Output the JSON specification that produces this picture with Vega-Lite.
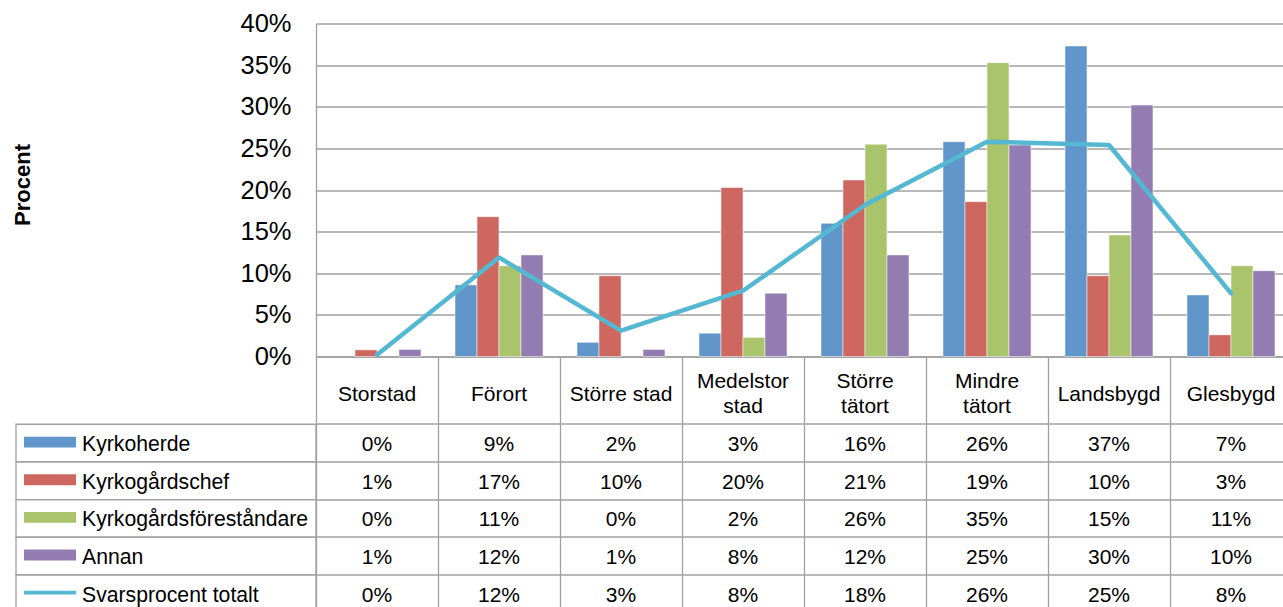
{
  "$schema": "https://vega.github.io/schema/vega-lite/v6.json",
  "background": "white",
  "padding": {"left": 11, "top": 11.5, "right": 0, "bottom": 0},
  "config": {
    "view": {"stroke": null},
    "font": "Liberation Sans",
    "axis": {"labelFont": "Liberation Sans", "titleFont": "Liberation Sans"}
  },
  "datasets": {
    "andelar": [
      {"omrade": "Storstad", "grupp": "Kyrkoherde", "andel": 0},
      {"omrade": "Förort", "grupp": "Kyrkoherde", "andel": 0.086},
      {"omrade": "Större stad", "grupp": "Kyrkoherde", "andel": 0.017},
      {"omrade": "Medelstor stad", "grupp": "Kyrkoherde", "andel": 0.028},
      {"omrade": "Större tätort", "grupp": "Kyrkoherde", "andel": 0.16},
      {"omrade": "Mindre tätort", "grupp": "Kyrkoherde", "andel": 0.258},
      {"omrade": "Landsbygd", "grupp": "Kyrkoherde", "andel": 0.373},
      {"omrade": "Glesbygd", "grupp": "Kyrkoherde", "andel": 0.074},
      {"omrade": "Storstad", "grupp": "Kyrkogårdschef", "andel": 0.008},
      {"omrade": "Förort", "grupp": "Kyrkogårdschef", "andel": 0.168},
      {"omrade": "Större stad", "grupp": "Kyrkogårdschef", "andel": 0.097},
      {"omrade": "Medelstor stad", "grupp": "Kyrkogårdschef", "andel": 0.203},
      {"omrade": "Större tätort", "grupp": "Kyrkogårdschef", "andel": 0.212},
      {"omrade": "Mindre tätort", "grupp": "Kyrkogårdschef", "andel": 0.186},
      {"omrade": "Landsbygd", "grupp": "Kyrkogårdschef", "andel": 0.097},
      {"omrade": "Glesbygd", "grupp": "Kyrkogårdschef", "andel": 0.026},
      {"omrade": "Storstad", "grupp": "Kyrkogårdsföreståndare", "andel": 0},
      {"omrade": "Förort", "grupp": "Kyrkogårdsföreståndare", "andel": 0.109},
      {"omrade": "Större stad", "grupp": "Kyrkogårdsföreståndare", "andel": 0},
      {"omrade": "Medelstor stad", "grupp": "Kyrkogårdsföreståndare", "andel": 0.023},
      {"omrade": "Större tätort", "grupp": "Kyrkogårdsföreståndare", "andel": 0.255},
      {"omrade": "Mindre tätort", "grupp": "Kyrkogårdsföreståndare", "andel": 0.353},
      {"omrade": "Landsbygd", "grupp": "Kyrkogårdsföreståndare", "andel": 0.146},
      {"omrade": "Glesbygd", "grupp": "Kyrkogårdsföreståndare", "andel": 0.109},
      {"omrade": "Storstad", "grupp": "Annan", "andel": 0.0085},
      {"omrade": "Förort", "grupp": "Annan", "andel": 0.122},
      {"omrade": "Större stad", "grupp": "Annan", "andel": 0.0085},
      {"omrade": "Medelstor stad", "grupp": "Annan", "andel": 0.076},
      {"omrade": "Större tätort", "grupp": "Annan", "andel": 0.122},
      {"omrade": "Mindre tätort", "grupp": "Annan", "andel": 0.254},
      {"omrade": "Landsbygd", "grupp": "Annan", "andel": 0.302},
      {"omrade": "Glesbygd", "grupp": "Annan", "andel": 0.103},
      {"omrade": "Storstad", "grupp": "Svarsprocent totalt", "andel": 0.002},
      {"omrade": "Förort", "grupp": "Svarsprocent totalt", "andel": 0.119},
      {"omrade": "Större stad", "grupp": "Svarsprocent totalt", "andel": 0.031},
      {"omrade": "Medelstor stad", "grupp": "Svarsprocent totalt", "andel": 0.079},
      {"omrade": "Större tätort", "grupp": "Svarsprocent totalt", "andel": 0.182},
      {"omrade": "Mindre tätort", "grupp": "Svarsprocent totalt", "andel": 0.258},
      {"omrade": "Landsbygd", "grupp": "Svarsprocent totalt", "andel": 0.254},
      {"omrade": "Glesbygd", "grupp": "Svarsprocent totalt", "andel": 0.076}
    ]
  },
  "columns": 2,
  "spacing": 0,
  "bounds": "flush",
  "resolve": {
    "scale": {"x": "independent", "y": "independent", "color": "independent", "shape": "independent"},
    "axis": {"x": "independent", "y": "independent"}
  },
  "concat": [
    {
      "width": 300,
      "height": 333,
      "data": {"values": [{}]},
      "mark": {"type": "text", "text": ""}
    },
    {
      "width": 976,
      "height": 333,
      "data": {"name": "andelar"},
      "encoding": {
        "x": {
          "field": "omrade",
          "type": "nominal",
          "scale": {
            "type": "band",
            "domain": ["Storstad", "Förort", "Större stad", "Medelstor stad", "Större tätort", "Mindre tätort", "Landsbygd", "Glesbygd"],
            "paddingInner": 0,
            "paddingOuter": 0
          },
          "axis": {
            "title": null,
            "orient": "bottom",
            "domain": true,
            "domainColor": "#A0A0A0",
            "domainWidth": 1.3,
            "ticks": false,
            "grid": false,
            "labelAngle": 0,
            "labelFontSize": 21,
            "labelColor": "#000000",
            "labelBaseline": "middle",
            "labelPadding": {
              "condition": {"test": "indexof(['Medelstor stad', 'Större tätort', 'Mindre tätort'], datum.value) >= 0", "value": 25},
              "value": 37.5
            },
            "labelLineHeight": 25,
            "labelOverlap": false,
            "labelExpr": "indexof(['Medelstor stad', 'Större tätort', 'Mindre tätort'], datum.value) >= 0 ? split(datum.value, ' ') : datum.value"
          }
        }
      },
      "layer": [
        {
          "transform": [{"filter": "datum.grupp != 'Svarsprocent totalt' && datum.andel > 0"}],
          "mark": {"type": "bar", "stroke": "#ffffff", "strokeOpacity": 0.5, "strokeWidth": 1},
          "encoding": {
            "xOffset": {
              "field": "grupp",
              "scale": {
                "domain": ["Kyrkoherde", "Kyrkogårdschef", "Kyrkogårdsföreståndare", "Annan"],
                "paddingOuter": 0.773,
                "paddingInner": 0
              }
            },
            "y": {
              "field": "andel",
              "type": "quantitative",
              "scale": {"domain": [0, 0.4], "nice": false},
              "axis": {
                "values": [0, 0.05, 0.1, 0.15, 0.2, 0.25, 0.3, 0.35, 0.4],
                "format": ".0%",
                "grid": true,
                "gridColor": "#A0A0A0",
                "gridWidth": 1.3,
                "domain": true,
                "domainColor": "#A0A0A0",
                "domainWidth": 1.3,
                "ticks": false,
                "labelFontSize": 25.5,
                "labelColor": "#000000",
                "labelPadding": 25,
                "title": "Procent",
                "titleFontSize": 22,
                "titleFontWeight": "bold",
                "titleColor": "#000000",
                "titleAngle": -90,
                "titleBaseline": "middle",
                "titleAlign": "center",
                "titleX": -293.5,
                "titleY": 161
              }
            },
            "color": {
              "field": "grupp",
              "scale": {
                "domain": ["Kyrkoherde", "Kyrkogårdschef", "Kyrkogårdsföreståndare", "Annan", "Svarsprocent totalt"],
                "range": ["#6096CA", "#CD6760", "#AAC46C", "#937CB2", "#54B8D2"]
              },
              "legend": null
            }
          }
        },
        {
          "transform": [{"filter": "datum.grupp == 'Svarsprocent totalt'"}],
          "mark": {"type": "line", "color": "#54B8D2", "strokeWidth": 4.5, "strokeCap": "round", "strokeJoin": "round"},
          "encoding": {
            "y": {"field": "andel", "type": "quantitative"}
          }
        }
      ]
    },
    {
      "width": 300,
      "height": 256,
      "data": {"name": "andelar"},
      "transform": [{"filter": "datum.omrade == 'Storstad'"}],
      "encoding": {
        "y": {
          "field": "grupp",
          "type": "nominal",
          "scale": {
            "type": "band",
            "domain": ["Kyrkoherde", "Kyrkogårdschef", "Kyrkogårdsföreståndare", "Annan", "Svarsprocent totalt"],
            "paddingInner": 0,
            "paddingOuter": 0.9,
            "align": 1
          },
          "axis": null
        }
      },
      "layer": [
        {
          "mark": {"type": "rect", "filled": false, "stroke": "#A0A0A0", "strokeWidth": 1.3}
        },
        {
          "mark": {"type": "point", "filled": true, "opacity": 1, "size": 2704, "xOffset": -116, "yOffset": -1},
          "encoding": {
            "shape": {
              "field": "grupp",
              "scale": {
                "domain": ["Kyrkoherde", "Kyrkogårdschef", "Kyrkogårdsföreståndare", "Annan", "Svarsprocent totalt"],
                "range": ["M-1,-0.21H1V0.21H-1Z", "M-1,-0.21H1V0.21H-1Z", "M-1,-0.21H1V0.21H-1Z", "M-1,-0.21H1V0.21H-1Z", "M-1,-0.07H1V0.07H-1Z"]
              },
              "legend": null
            },
            "color": {
              "field": "grupp",
              "scale": {
                "domain": ["Kyrkoherde", "Kyrkogårdschef", "Kyrkogårdsföreståndare", "Annan", "Svarsprocent totalt"],
                "range": ["#6096CA", "#CD6760", "#AAC46C", "#937CB2", "#54B8D2"]
              },
              "legend": null
            }
          }
        },
        {
          "mark": {"type": "text", "align": "left", "dx": -84, "dy": 2, "fontSize": 21.2, "color": "#000000"},
          "encoding": {"text": {"field": "grupp"}}
        }
      ]
    },
    {
      "width": 976,
      "height": 256,
      "data": {"name": "andelar"},
      "mark": {"type": "text", "fontSize": 21, "dy": 2, "color": "#000000"},
      "encoding": {
        "x": {
          "field": "omrade",
          "type": "nominal",
          "scale": {
            "type": "band",
            "domain": ["Storstad", "Förort", "Större stad", "Medelstor stad", "Större tätort", "Mindre tätort", "Landsbygd", "Glesbygd"],
            "paddingInner": 0,
            "paddingOuter": 0
          },
          "axis": {
            "orient": "top",
            "title": null,
            "labels": false,
            "ticks": false,
            "domain": false,
            "grid": true,
            "bandPosition": 0,
            "gridColor": "#A0A0A0",
            "gridWidth": 1.3
          }
        },
        "y": {
          "field": "grupp",
          "type": "nominal",
          "scale": {
            "type": "band",
            "domain": ["Kyrkoherde", "Kyrkogårdschef", "Kyrkogårdsföreståndare", "Annan", "Svarsprocent totalt"],
            "paddingInner": 0,
            "paddingOuter": 0.9,
            "align": 1
          },
          "axis": {
            "title": null,
            "labels": false,
            "ticks": false,
            "domain": false,
            "grid": true,
            "bandPosition": 0,
            "gridColor": "#A0A0A0",
            "gridWidth": 1.3
          }
        },
        "text": {"field": "andel", "type": "quantitative", "format": ".0%"}
      }
    }
  ]
}
